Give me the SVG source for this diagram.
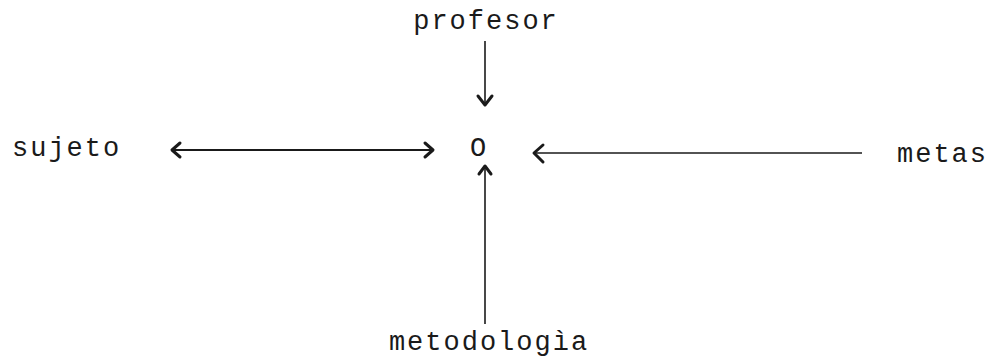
<svg xmlns="http://www.w3.org/2000/svg" width="995" height="361" viewBox="0 0 995 361">
<style>
  .lbl { font-family: "Liberation Mono", "Courier New", monospace; font-size: 27px; fill: #1a1a1a; letter-spacing: 2px; }
  .ln { stroke: #1a1a1a; stroke-width: 1.6; fill: none; }
  .hd { stroke: #1a1a1a; stroke-width: 3; fill: none; stroke-linecap: round; stroke-linejoin: round; }
</style>
<rect width="995" height="361" fill="#ffffff"/>
<g id="profesor"><text class="lbl" x="486" y="29" text-anchor="middle">profesor</text></g>
<g id="sujeto"><text class="lbl" x="12" y="156">sujeto</text></g>
<g id="center"><text class="lbl" x="479" y="156" text-anchor="middle">O</text></g>
<g id="metas"><text class="lbl" x="897" y="162">metas</text></g>
<g id="metodologia"><text class="lbl" x="489" y="350" text-anchor="middle">metodologìa</text></g>
<g id="connectors">
  <!-- profesor down -->
  <line class="ln" x1="485" y1="41" x2="485" y2="104"/>
  <path class="hd" d="M478,96 L485,105 L492,96"/>
  <!-- sujeto double -->
  <line class="ln" x1="172" y1="150" x2="432" y2="150" style="stroke-width:2.2"/>
  <path class="hd" d="M180,143 L172,150 L180,157"/>
  <path class="hd" d="M425,143 L433,150 L425,157"/>
  <!-- metas left -->
  <line class="ln" x1="534" y1="153" x2="862" y2="153"/>
  <path class="hd" d="M543,145 L534,153 L543,162"/>
  <!-- metodologia up -->
  <line class="ln" x1="485" y1="166" x2="485" y2="324"/>
  <path class="hd" d="M479,174 L485,166 L491,174"/>
</g>
</svg>
